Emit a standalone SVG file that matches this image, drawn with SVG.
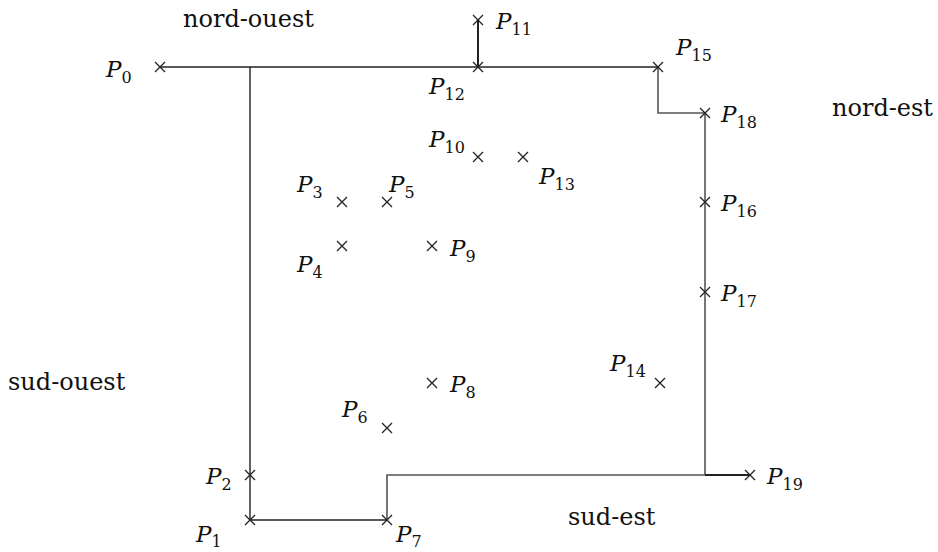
<svg xmlns="http://www.w3.org/2000/svg" width="938" height="552" viewBox="0 0 938 552">
<defs>
<style>
.lbl{font-family:"DejaVu Serif",serif;font-style:italic;font-size:23px;fill:#111}
.sub{font-style:normal;font-size:16px}
.reg{font-family:"DejaVu Serif",serif;font-size:24px;fill:#111}
.c{stroke:#222;stroke-width:1.3;fill:none}
.e{stroke:#222;stroke-width:1.4;fill:none}
.g{stroke:#555;stroke-width:1.6;fill:none}
</style>
<path id="x" d="M-5,-5L5,5M-5,5L5,-5" class="c"/>
</defs>
<rect width="938" height="552" fill="#fff"/>
<g id="connectors">
<path class="e" d="M160,67H478"/>
<path class="e" d="M478,67H658"/>
<path class="e" d="M478,20V67" style="stroke-width:2"/>
<path class="e" d="M250,67V520H387"/>
<path class="g" d="M658,67V113H705"/>
<path class="g" d="M705,113V475"/>
<path class="g" d="M387,520V475H705"/>
<path class="e" d="M705,475H750" style="stroke-width:2"/>
</g>
<g id="P0"><use href="#x" x="160" y="67"/><text class="lbl" x="106" y="77">P<tspan class="sub" dy="6">0</tspan></text></g>
<g id="P1"><use href="#x" x="250" y="520"/><text class="lbl" x="196" y="542">P<tspan class="sub" dy="5">1</tspan></text></g>
<g id="P2"><use href="#x" x="250" y="475"/><text class="lbl" x="206" y="484">P<tspan class="sub" dy="6">2</tspan></text></g>
<g id="P3"><use href="#x" x="342" y="202"/><text class="lbl" x="297" y="192">P<tspan class="sub" dy="6">3</tspan></text></g>
<g id="P4"><use href="#x" x="342" y="246"/><text class="lbl" x="297" y="272">P<tspan class="sub" dy="6">4</tspan></text></g>
<g id="P5"><use href="#x" x="387" y="202"/><text class="lbl" x="389" y="192">P<tspan class="sub" dy="6">5</tspan></text></g>
<g id="P6"><use href="#x" x="387" y="428"/><text class="lbl" x="342" y="417">P<tspan class="sub" dy="6">6</tspan></text></g>
<g id="P7"><use href="#x" x="387" y="520"/><text class="lbl" x="396" y="542">P<tspan class="sub" dy="5">7</tspan></text></g>
<g id="P8"><use href="#x" x="432" y="383"/><text class="lbl" x="450" y="392">P<tspan class="sub" dy="6">8</tspan></text></g>
<g id="P9"><use href="#x" x="432" y="246"/><text class="lbl" x="450" y="256">P<tspan class="sub" dy="6">9</tspan></text></g>
<g id="P10"><use href="#x" x="478" y="157"/><text class="lbl" x="429" y="147">P<tspan class="sub" dy="6">10</tspan></text></g>
<g id="P11"><use href="#x" x="478" y="20"/><text class="lbl" x="496" y="29">P<tspan class="sub" dy="6">11</tspan></text></g>
<g id="P12"><use href="#x" x="478" y="67"/><text class="lbl" x="429" y="94">P<tspan class="sub" dy="6">12</tspan></text></g>
<g id="P13"><use href="#x" x="523" y="157"/><text class="lbl" x="539" y="184">P<tspan class="sub" dy="6">13</tspan></text></g>
<g id="P14"><use href="#x" x="660" y="383"/><text class="lbl" x="610" y="371">P<tspan class="sub" dy="6">14</tspan></text></g>
<g id="P15"><use href="#x" x="658" y="67"/><text class="lbl" x="676" y="55">P<tspan class="sub" dy="6">15</tspan></text></g>
<g id="P16"><use href="#x" x="705" y="202"/><text class="lbl" x="721" y="211">P<tspan class="sub" dy="6">16</tspan></text></g>
<g id="P17"><use href="#x" x="705" y="292"/><text class="lbl" x="721" y="301">P<tspan class="sub" dy="6">17</tspan></text></g>
<g id="P18"><use href="#x" x="705" y="113"/><text class="lbl" x="721" y="122">P<tspan class="sub" dy="6">18</tspan></text></g>
<g id="P19"><use href="#x" x="750" y="475"/><text class="lbl" x="767" y="484">P<tspan class="sub" dy="6">19</tspan></text></g>
<g id="regions">
<text class="reg" x="183" y="27">nord-ouest</text>
<text class="reg" x="832" y="116">nord-est</text>
<text class="reg" x="8" y="390">sud-ouest</text>
<text class="reg" x="568" y="525">sud-est</text>
</g>
</svg>
